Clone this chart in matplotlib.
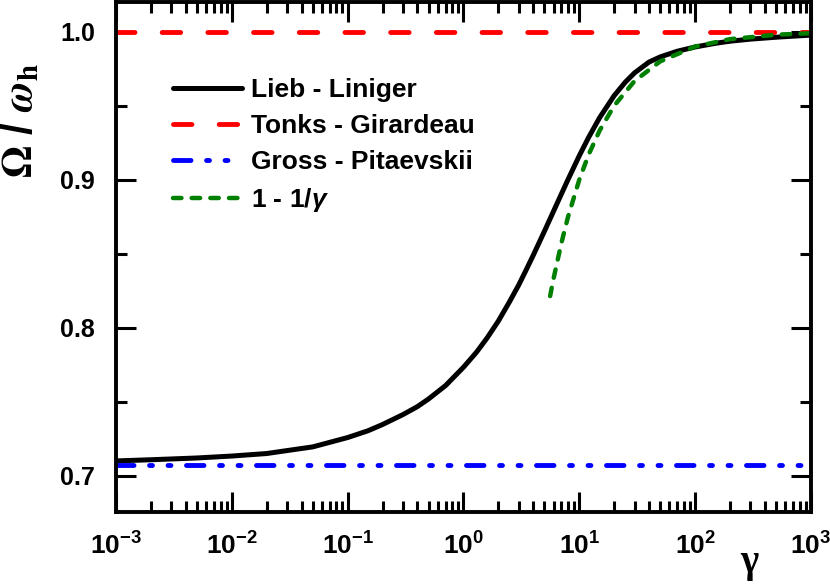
import numpy as np
import matplotlib
matplotlib.use('Agg')
import matplotlib.pyplot as plt
from matplotlib import ticker

plt.rcParams['font.family'] = ['Liberation Sans', 'DejaVu Sans']
plt.rcParams['font.weight'] = 'bold'
plt.rcParams['mathtext.fontset'] = 'custom'
plt.rcParams['mathtext.rm'] = 'Liberation Sans:bold'
plt.rcParams['mathtext.bf'] = 'Liberation Sans:bold'
plt.rcParams['mathtext.it'] = 'Liberation Sans:bold:italic'

# Lieb - Liniger curve
gamma_ll = [0.001, 0.002, 0.005, 0.01, 0.02, 0.03, 0.05, 0.1, 0.15, 0.2, 0.3, 0.4,
            0.5, 0.7, 1.0, 1.3, 1.6, 2.0, 2.5, 3.0, 3.5, 4.0, 5.0, 6.0, 7.0, 8.0,
            10.0, 12.0, 15.0, 20.0, 25.0, 30.0, 40.0, 50.0, 70.0, 100.0, 150.0,
            200.0, 300.0, 500.0, 700.0, 1000.0]
omega_ll = [0.7100, 0.7108, 0.7120, 0.7133, 0.7150, 0.7170, 0.7195, 0.7258, 0.7304,
            0.7346, 0.7413, 0.7467, 0.7519, 0.7609, 0.7733, 0.7836, 0.7931, 0.8045,
            0.8176, 0.8289, 0.8395, 0.8489, 0.8652, 0.8788, 0.8903, 0.9002, 0.9162,
            0.9284, 0.9420, 0.9568, 0.9660, 0.9722, 0.9795, 0.9830, 0.9868, 0.9897,
            0.9922, 0.9936, 0.9950, 0.9963, 0.9970, 0.9977]

# Tonks - Girardeau and Gross - Pitaevskii limits
gamma_lim = [0.001, 1000.0]
omega_tg = [1.0, 1.0]
omega_gp = [0.7071, 0.7071]

# strong coupling expansion 1 - 1/gamma
gamma_sc = [5.6, 6.0, 7.0, 8.0, 10.0, 12.0, 15.0, 20.0, 30.0, 50.0, 100.0, 200.0, 500.0, 1000.0]
omega_sc = [0.8214, 0.8333, 0.8571, 0.8750, 0.9000, 0.9167, 0.9333, 0.9500, 0.9667,
            0.9800, 0.9900, 0.9950, 0.9980, 0.9990]

x_ticks = [1e-3, 1e-2, 1e-1, 1e0, 1e1, 1e2, 1e3]
x_ticklabels = [r'$10^{-3}$', r'$10^{-2}$', r'$10^{-1}$', r'$10^{0}$',
                r'$10^{1}$', r'$10^{2}$', r'$10^{3}$']

fig = plt.figure(figsize=(8.3, 5.86), dpi=100)
ax = fig.add_axes([0.1398, 0.1263, 0.8372, 0.8703])

ax.plot(gamma_ll, omega_ll, color='black', lw=3.6, solid_capstyle='round',
        solid_joinstyle='round', label='Lieb - Liniger')
ax.plot(gamma_lim, omega_tg, color='red', lw=3.5, dashes=(3.8, 5.6),
        dash_capstyle='round', label='Tonks - Girardeau')
ax.plot(gamma_lim, omega_gp, color='blue', lw=3.5,
        dashes=(3.6, 3.2, 0.6, 3.2, 0.6, 3.2), dash_capstyle='round',
        label='Gross - Pitaevskii')
ax.plot(gamma_sc, omega_sc, color='green', lw=3.2, dashes=(1.9, 2.3),
        dash_capstyle='round', label=r'1 - 1/$\gamma$')

ax.set_xscale('log')
ax.set_xticks(x_ticks)
ax.set_xticklabels(x_ticklabels)
ax.xaxis.set_minor_locator(ticker.LogLocator(base=10, subs=np.arange(2, 10), numticks=20))
ax.xaxis.set_minor_formatter(ticker.NullFormatter())
ax.set_xlim(1e-3, 1e3)
ax.set_ylim(0.6755, 1.0201)
ax.yaxis.set_major_locator(ticker.MultipleLocator(0.1))
ax.yaxis.set_minor_locator(ticker.MultipleLocator(0.05))
ax.yaxis.set_major_formatter(ticker.FormatStrFormatter('%.1f'))

for s in ax.spines.values():
    s.set_linewidth(2.8)
ax.tick_params(which='both', direction='in', top=True, right=True, width=2.2)
ax.tick_params(which='major', length=14.5, labelsize=18)
ax.tick_params(which='minor', length=8)
ax.tick_params(axis='x', which='major', pad=15, labelsize=19)
ax.tick_params(axis='y', which='major', pad=15)

ax.text(0.912, -0.10, 'γ', transform=ax.transAxes, ha='center', va='center',
        fontsize=28, family='Liberation Serif', fontweight='bold')
fig.text(20 / 830, 1 - 121 / 586, r'$\Omega$ / $\omega_\mathbf{h}$', rotation=90,
         ha='center', va='center', fontsize=30, math_fontfamily='stix')

ax.legend(loc='upper left', bbox_to_anchor=(0.082, 0.85), frameon=False,
          fontsize=19, handlelength=2.6, handletextpad=0.35, labelspacing=0.45,
          borderpad=0, borderaxespad=0)

fig.savefig('out.png', dpi=100)
